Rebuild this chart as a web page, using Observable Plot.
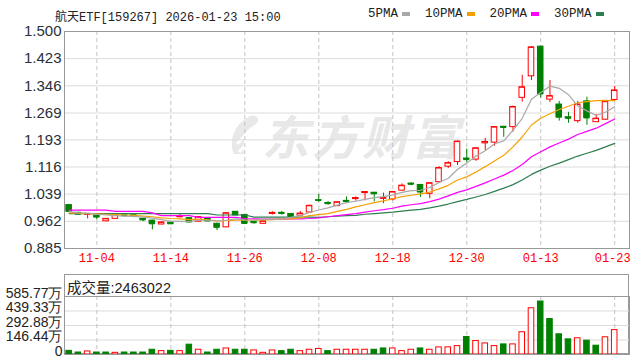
<!DOCTYPE html>
<html>
<head>
<meta charset="utf-8">
<script src="https://cdn.jsdelivr.net/npm/d3@7"></script>
<script src="https://cdn.jsdelivr.net/npm/@observablehq/plot@0.6"></script>
<style>
  html, body { margin: 0; padding: 0; background: #fff; }
  #wrap { position: relative; width: 631px; height: 361px; overflow: hidden; background: #fff; }
  .abs { position: absolute; }
  #wm { left: 262px; top: 100px; font: italic bold 47px "Noto Sans CJK SC"; color: #e8e8e8; letter-spacing: 3px; white-space: nowrap; }
  #logo { left: 228px; top: 114px; }
  #header { left: 55px; top: 7px; font: 12px "Liberation Mono", "Noto Sans CJK SC"; color: #222; white-space: nowrap; }
  #legend { left: 368px; top: 7px; font: 12.5px "Liberation Mono", "Noto Sans CJK SC"; color: #222; white-space: nowrap; display: flex; align-items: center; }
  #legend .item { display: flex; align-items: center; margin-right: 15px; }
  #legend .sw { display: inline-block; width: 8px; height: 4px; margin-left: 4px; }
  #volbox { left: 64px; top: 274px; width: 565px; height: 80px; box-sizing: border-box; border: 1px solid #999; }
  #voltitle { left: 67px; top: 276px; font: 14.5px "Liberation Sans", "Noto Sans CJK SC"; color: #222; white-space: nowrap; }
</style>
</head>
<body>
<div id="wrap">
  <svg id="logo" class="abs" width="32" height="42" viewBox="0 0 32 42">
    <path d="M6 40 C 0 28, 6 10, 22 2 C 30 0, 32 6, 28 10 C 18 16, 14 26, 16 40 Z" fill="#e8e8e8"/>
    <path d="M9 30 L 24 14" stroke="#fff" stroke-width="3"/>
    <path d="M11 38 L 26 22" stroke="#fff" stroke-width="3"/>
  </svg>
  <div id="wm" class="abs">东方财富</div>
  <div id="main" class="abs" style="left:0;top:0"></div>
  <div id="header" class="abs"></div>
  <div id="legend" class="abs"></div>
  <div id="volbox" class="abs"></div>
  <div id="voltitle" class="abs"></div>
  <div id="vol" class="abs" style="left:0;top:270px"></div>
</div>
<script>
// ---- data ----
const title = "航天ETF[159267] 2026-01-23 15:00";
const volTitle = "成交量:2463022";
const dates = ["10-30","10-31","11-03","11-04","11-05","11-06","11-07","11-10","11-11","11-12",
  "11-13","11-14","11-17","11-18","11-19","11-20","11-21","11-24","11-25","11-26",
  "11-27","11-28","12-01","12-02","12-03","12-04","12-05","12-08","12-09","12-10",
  "12-11","12-12","12-15","12-16","12-17","12-18","12-19","12-22","12-23","12-24",
  "12-25","12-26","12-29","12-30","12-31","01-05","01-06","01-07","01-08","01-09",
  "01-12","01-13","01-14","01-15","01-16","01-19","01-20","01-21","01-22","01-23"];
const tickLabels = ["11-04","11-14","11-26","12-08","12-18","12-30","01-13","01-23"];
const open = [1.008,0.986,0.981,0.978,0.962,0.969,0.979,0.979,0.969,0.964,
  0.953,0.958,0.974,0.971,0.961,0.971,0.955,0.945,0.989,0.980,
  0.960,0.955,0.983,0.986,0.983,0.978,0.987,1.022,1.014,1.005,
  1.020,1.025,1.042,1.043,1.026,1.024,1.049,1.069,1.065,1.040,
  1.073,1.117,1.130,1.140,1.137,1.183,1.185,1.230,1.229,1.312,
  1.373,1.457,1.307,1.293,1.257,1.246,1.302,1.243,1.250,1.306];
const high = [1.010,0.988,0.983,0.979,0.970,0.981,0.980,0.981,0.970,0.965,
  0.960,0.959,0.983,0.972,0.975,0.972,0.957,0.986,0.990,0.981,
  0.961,0.963,0.989,0.990,0.984,0.990,1.008,1.038,1.018,1.017,
  1.031,1.031,1.045,1.044,1.042,1.047,1.068,1.071,1.067,1.071,
  1.117,1.131,1.190,1.167,1.170,1.197,1.230,1.231,1.289,1.376,
  1.457,1.459,1.361,1.302,1.271,1.302,1.314,1.265,1.303,1.344];
const low = [0.988,0.981,0.969,0.966,0.961,0.968,0.975,0.972,0.961,0.938,
  0.952,0.954,0.972,0.959,0.960,0.962,0.936,0.944,0.979,0.955,
  0.954,0.954,0.980,0.980,0.974,0.977,0.986,1.016,1.008,1.004,
  1.013,1.019,1.020,1.017,1.012,1.020,1.048,1.063,1.030,1.026,
  1.072,1.112,1.120,1.128,1.132,1.163,1.175,1.200,1.215,1.300,
  1.361,1.311,1.299,1.246,1.240,1.240,1.234,1.242,1.249,1.302];
const close = [0.990,0.982,0.983,0.974,0.969,0.980,0.978,0.977,0.966,0.955,
  0.959,0.955,0.975,0.960,0.974,0.963,0.945,0.985,0.980,0.956,
  0.958,0.962,0.986,0.984,0.975,0.984,1.006,1.021,1.012,1.016,
  1.018,1.028,1.045,1.040,1.028,1.045,1.063,1.067,1.045,1.070,
  1.113,1.127,1.188,1.137,1.169,1.187,1.229,1.228,1.286,1.342,
  1.455,1.323,1.317,1.257,1.254,1.293,1.255,1.253,1.301,1.333];
// volume in 万
const volume = [37,20,31,20,20,17,20,20,20,48,
  34,37,34,99,48,20,48,61,48,48,
  41,17,41,34,48,34,48,56,34,48,
  48,48,48,48,61,61,34,48,61,48,
  72,72,85,177,136,112,85,102,102,225,
  467,535,358,204,153,164,140,89,174,246.3022];
const ma5 = [0.990,0.986,0.985,0.982,0.980,0.978,0.977,0.976,0.974,0.971,
  0.967,0.962,0.962,0.961,0.965,0.965,0.963,0.965,0.969,0.966,
  0.965,0.968,0.968,0.969,0.973,0.978,0.987,0.994,1.000,1.008,
  1.015,1.019,1.024,1.029,1.032,1.037,1.044,1.049,1.050,1.058,
  1.072,1.084,1.109,1.127,1.147,1.162,1.182,1.190,1.220,1.254,
  1.308,1.327,1.345,1.339,1.321,1.289,1.275,1.262,1.271,1.287];
const ma10 = [0.986,0.985,0.984,0.983,0.982,0.981,0.980,0.979,0.977,0.975,
  0.972,0.970,0.969,0.967,0.968,0.966,0.963,0.964,0.965,0.965,
  0.965,0.966,0.967,0.969,0.969,0.972,0.978,0.981,0.984,0.990,
  0.996,1.003,1.009,1.015,1.020,1.026,1.032,1.036,1.040,1.045,
  1.054,1.064,1.079,1.088,1.102,1.117,1.133,1.149,1.173,1.201,
  1.235,1.254,1.267,1.279,1.288,1.298,1.301,1.304,1.305,1.304];
const ma20 = [0.994,0.994,0.994,0.994,0.994,0.990,0.990,0.990,0.990,0.986,
  0.978,0.978,0.978,0.978,0.973,0.973,0.973,0.973,0.973,0.970,
  0.969,0.968,0.968,0.968,0.969,0.969,0.970,0.972,0.975,0.978,
  0.981,0.984,0.988,0.992,0.995,0.999,1.005,1.009,1.012,1.018,
  1.025,1.034,1.044,1.051,1.061,1.071,1.082,1.093,1.106,1.123,
  1.145,1.159,1.173,1.184,1.195,1.208,1.217,1.226,1.239,1.252];
const ma30 = [0.984,0.984,0.984,0.984,0.984,0.984,0.984,0.984,0.984,0.984,
  0.984,0.984,0.984,0.984,0.984,0.984,0.980,0.980,0.980,0.980,
  0.974,0.974,0.974,0.974,0.974,0.974,0.974,0.973,0.975,0.977,
  0.978,0.979,0.982,0.984,0.986,0.988,0.991,0.994,0.996,1.000,
  1.005,1.011,1.018,1.024,1.031,1.038,1.047,1.056,1.066,1.079,
  1.095,1.107,1.118,1.127,1.137,1.147,1.155,1.163,1.173,1.183];
const priceTicks = [0.885,0.962,1.039,1.116,1.193,1.269,1.346,1.423,1.500];
const volTicks = [0,146.44,292.88,439.33,585.77];
const maNames = ["5PMA","10PMA","20PMA","30PMA"];

// ---- styles ----
const RED = "#ff0000", GREEN = "#008000";
const maColors = ["#a8a8a8","#f5a000","#ff00ff","#2e7d4f"];

const rows = dates.map((d, i) => ({
  i, date: d, open: open[i], high: high[i], low: low[i], close: close[i],
  vol: volume[i], ma5: ma5[i], ma10: ma10[i], ma20: ma20[i], ma30: ma30[i],
  up: close[i] >= open[i],
  vup: i > 0 ? close[i] >= close[i - 1] : close[i] >= open[i]
}));
const tickIdx = tickLabels.map(t => dates.indexOf(t));
const lastTick = tickIdx[tickIdx.length - 1];
const W = 0.3;
const xDomain = [-0.5, 60.6];

document.getElementById("header").textContent = title;
document.getElementById("voltitle").textContent = volTitle;
const leg = document.getElementById("legend");
maNames.forEach((n, k) => {
  const it = document.createElement("span");
  it.className = "item";
  it.innerHTML = `<span>${n}</span><span class="sw" style="background:${maColors[k]}"></span>`;
  leg.appendChild(it);
});

const main = Plot.plot({
  width: 631, height: 268,
  marginLeft: 64, marginRight: 2, marginTop: 31, marginBottom: 20,
  style: { background: "transparent", fontFamily: "Liberation Sans", overflow: "visible" },
  x: { type: "linear", domain: xDomain, axis: null },
  y: { domain: [0.885, 1.5], axis: null },
  color: { type: "identity" },
  marks: [
    Plot.ruleY(priceTicks, { stroke: "#dcdcdc" }),
    Plot.ruleX(tickIdx, { stroke: "#c4c4c4", strokeDasharray: "4,3" }),
    Plot.ruleX(rows, { x: "i", y1: "low", y2: "high", stroke: d => d.up ? RED : GREEN }),
    Plot.rect(rows, { x1: d => d.i - W, x2: d => d.i + W, y1: "open", y2: "close",
      fill: d => d.up ? "#fff" : GREEN, stroke: d => d.up ? RED : GREEN }),
    Plot.ruleY(rows, { y: "close", x1: d => d.i - W, x2: d => d.i + W, stroke: d => d.up ? RED : GREEN }),
    Plot.line(rows, { x: "i", y: "ma30", stroke: maColors[3], strokeWidth: 1.2 }),
    Plot.line(rows, { x: "i", y: "ma20", stroke: maColors[2], strokeWidth: 1.2 }),
    Plot.line(rows, { x: "i", y: "ma10", stroke: maColors[1], strokeWidth: 1.2 }),
    Plot.line(rows, { x: "i", y: "ma5", stroke: maColors[0], strokeWidth: 1.2 }),
    Plot.frame({ stroke: "#999" }),
    Plot.text(priceTicks, { y: d => d, frameAnchor: "left", dx: -3, textAnchor: "end",
      text: d => d.toFixed(3), fill: "#2a2f3a", fontSize: 15 }),
    Plot.text(tickIdx.filter(t => t !== lastTick), { x: d => d, frameAnchor: "bottom", dy: 13, text: d => dates[d],
      fill: RED, fontSize: 12, fontFamily: "Liberation Mono" }),
    Plot.text([lastTick], { x: d => d, frameAnchor: "bottom", dy: 13, dx: -2, text: d => dates[d],
      fill: RED, fontSize: 12, fontFamily: "Liberation Mono" })
  ]
});
document.getElementById("main").appendChild(main);

const vol = Plot.plot({
  width: 631, height: 91,
  marginLeft: 64, marginRight: 2, marginTop: 26, marginBottom: 7,
  style: { background: "transparent", fontFamily: "Liberation Sans", overflow: "visible" },
  x: { type: "linear", domain: xDomain, axis: null },
  y: { domain: [0, 585.77], axis: null },
  color: { type: "identity" },
  marks: [
    Plot.ruleY(volTicks, { stroke: "#dcdcdc" }),
    Plot.ruleX(tickIdx, { stroke: "#c4c4c4", strokeDasharray: "4,3" }),
    Plot.rect(rows, { x1: d => d.i - W, x2: d => d.i + W, y1: 0, y2: "vol",
      fill: d => d.vup ? "#fff" : GREEN, stroke: d => d.vup ? RED : GREEN }),
    Plot.frame({ stroke: "#999" }),
    Plot.text(volTicks, { y: d => d, frameAnchor: "left", dx: -2, dy: -3, textAnchor: "end",
      text: d => d === 0 ? "0" : d.toFixed(2) + "万", fill: "#222", fontSize: 14 })
  ]
});
document.getElementById("vol").appendChild(vol);
</script>
</body>
</html>
